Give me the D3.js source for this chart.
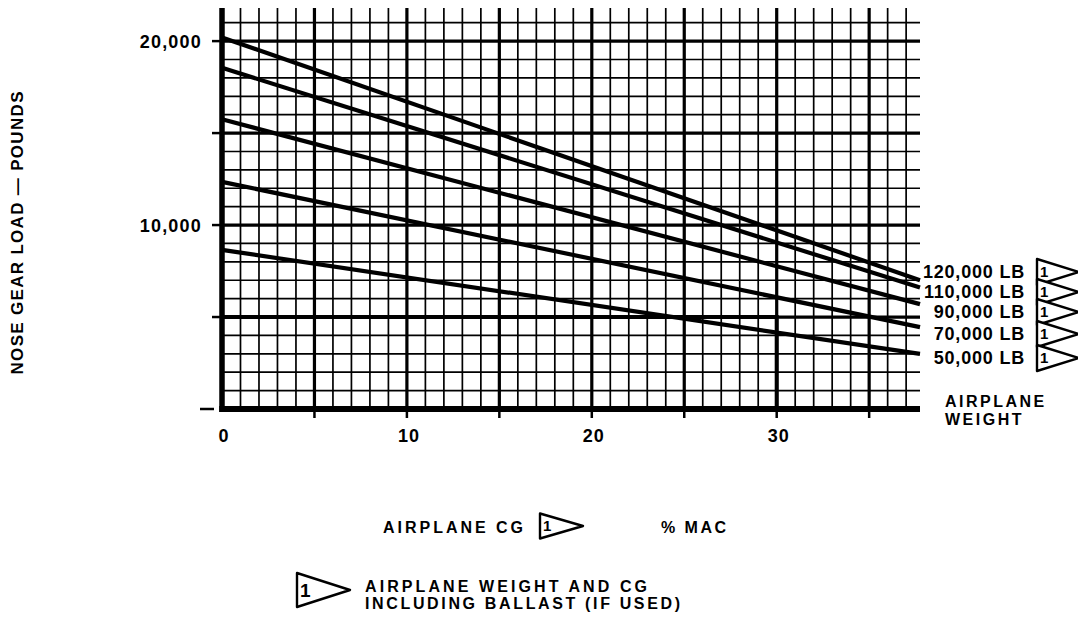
<!DOCTYPE html>
<html>
<head>
<meta charset="utf-8">
<script src="https://cdn.jsdelivr.net/npm/d3@7"></script>
<style>
  html, body { margin: 0; padding: 0; background: #fff; }
  svg { display: block; font-family: "Liberation Sans", Arial, Helvetica, sans-serif; font-weight: bold; }
  text { fill: #000; }
</style>
</head>
<body>
<svg class="chart"></svg>
<script>
// airplane CG (% MAC) at the two ends of each weight line
var cgPct = [0, 37.75];

// nose gear load (pounds) for each airplane weight
var weightLabels = ["120,000 LB", "110,000 LB", "90,000 LB", "70,000 LB", "50,000 LB"];
var load120 = [20200, 7000];
var load110 = [18550, 6600];
var load90 = [15750, 5700];
var load70 = [12350, 4450];
var load50 = [8650, 3000];

// worked example drawn on the grid
var exampleCg = 30;
var exampleLoad = 5000;

var xTickLabels = [0, 10, 20, 30];
var yTickLabels = [10000, 20000];
var loadMax = 21800;

var series = [load120, load110, load90, load70, load50];

var width = 1078, height = 626;
var svg = d3.select(".chart").attr("width", width).attr("height", height);
svg.append("rect").attr("width", width).attr("height", height).attr("fill", "#fff");

var x = d3.scaleLinear().domain([0, 37.75]).range([222, 920]);
var y = d3.scaleLinear().domain([0, loadMax]).range([409, 8]);

// grid
var grid = svg.append("g").attr("stroke", "#000");
grid.selectAll("line.v").data(d3.range(1, 38)).enter().append("line")
	.attr("x1", d => x(d)).attr("x2", d => x(d))
	.attr("y1", y(0)).attr("y2", y(loadMax))
	.attr("stroke-width", d => d % 5 === 0 ? 3.2 : 1.7);
grid.selectAll("line.h").data(d3.range(1000, loadMax, 1000)).enter().append("line")
	.attr("x1", x(0)).attr("x2", x(37.75))
	.attr("y1", d => y(d)).attr("y2", d => y(d))
	.attr("stroke-width", d => d % 5000 === 0 ? 3.2 : 1.7);

// example path: 5000 lb across to 30 % MAC, then down
svg.append("path")
	.attr("d", d3.line()([[x(0), y(exampleLoad)], [x(exampleCg), y(exampleLoad)], [x(exampleCg), y(0)]]))
	.attr("fill", "none").attr("stroke", "#000").attr("stroke-width", 4);

// axes
svg.append("line").attr("x1", x(0)).attr("x2", x(0)).attr("y1", y(loadMax)).attr("y2", y(0) + 3)
	.attr("stroke", "#000").attr("stroke-width", 5.5);
svg.append("line").attr("x1", x(0) - 2.75).attr("x2", x(37.75)).attr("y1", y(0)).attr("y2", y(0))
	.attr("stroke", "#000").attr("stroke-width", 6);

// ticks
svg.append("g").selectAll("line").data(d3.range(5, 38, 5)).enter().append("line")
	.attr("x1", d => x(d)).attr("x2", d => x(d))
	.attr("y1", y(0)).attr("y2", y(0) + 9)
	.attr("stroke", "#000").attr("stroke-width", 2.5);
svg.append("g").selectAll("line").data(d3.range(5000, loadMax, 5000)).enter().append("line")
	.attr("x1", x(0) - 10).attr("x2", x(0))
	.attr("y1", d => y(d)).attr("y2", d => y(d))
	.attr("stroke", "#000").attr("stroke-width", 2.5);
svg.append("line").attr("x1", x(0) - 22).attr("x2", x(0) - 8)
	.attr("y1", y(0)).attr("y2", y(0)).attr("stroke", "#000").attr("stroke-width", 2.5);

// tick labels
svg.append("g").selectAll("text").data(xTickLabels).enter().append("text")
	.attr("x", d => x(d) + 2).attr("y", 442)
	.attr("text-anchor", "middle").attr("font-size", 18).attr("letter-spacing", 1)
	.text(d => d);
svg.append("g").selectAll("text").data(yTickLabels).enter().append("text")
	.attr("x", 202).attr("y", d => y(d) + 6.5)
	.attr("text-anchor", "end").attr("font-size", 18).attr("letter-spacing", 1.2)
	.text(d => d3.format(",")(d));

// weight lines
var line = d3.line().x((d, i) => x(cgPct[i])).y(d => y(d));
svg.append("g").selectAll("path").data(series).enter().append("path")
	.attr("d", d => line(d))
	.attr("fill", "none").attr("stroke", "#000").attr("stroke-width", 4.2);

// flag marker: triangle with a "1"
function flag(g, x0, yc, w, h, fs) {
	g.append("path")
		.attr("d", `M${x0},${yc - h / 2}L${x0 + w},${yc}L${x0},${yc + h / 2}Z`)
		.attr("fill", "#fff").attr("stroke", "#000").attr("stroke-width", 2.4)
		.attr("stroke-linejoin", "round");
	g.append("text").attr("x", x0 + 3).attr("y", yc + fs * 0.36)
		.attr("font-size", fs).text("1");
}

// weight labels at the right
var labelBase = [278, 298, 318, 340, 364];
var wl = svg.append("g");
weightLabels.forEach(function(t, i) {
	wl.append("text").attr("x", 1025).attr("y", labelBase[i])
		.attr("text-anchor", "end").attr("font-size", 18).attr("letter-spacing", 0.8)
		.text(t);
	flag(wl, 1037, labelBase[i] - 6, 42, 26, 15);
});
svg.append("text").attr("x", 945).attr("y", 407).attr("font-size", 16).attr("letter-spacing", 2.5).text("AIRPLANE");
svg.append("text").attr("x", 945).attr("y", 425).attr("font-size", 16).attr("letter-spacing", 2.5).text("WEIGHT");

// y axis title
svg.append("text")
	.attr("transform", "translate(23,233) rotate(-90)")
	.attr("text-anchor", "middle").attr("font-size", 17)
	.attr("textLength", 283).attr("lengthAdjust", "spacing")
	.text("NOSE GEAR LOAD \u2014 POUNDS");

// x axis title
svg.append("text").attr("x", 383).attr("y", 533).attr("font-size", 16)
	.attr("textLength", 140).attr("lengthAdjust", "spacing").text("AIRPLANE CG");
flag(svg, 540, 526, 43, 25, 15);
svg.append("text").attr("x", 661).attr("y", 533).attr("font-size", 16)
	.attr("textLength", 65).attr("lengthAdjust", "spacing").text("% MAC");

// note
flag(svg, 297, 590, 53, 34, 19);
svg.append("text").attr("x", 365).attr("y", 592).attr("font-size", 16)
	.attr("textLength", 282).attr("lengthAdjust", "spacing").text("AIRPLANE WEIGHT AND CG");
svg.append("text").attr("x", 365).attr("y", 609).attr("font-size", 16)
	.attr("textLength", 315).attr("lengthAdjust", "spacing").text("INCLUDING BALLAST (IF USED)");
</script>
</body>
</html>
